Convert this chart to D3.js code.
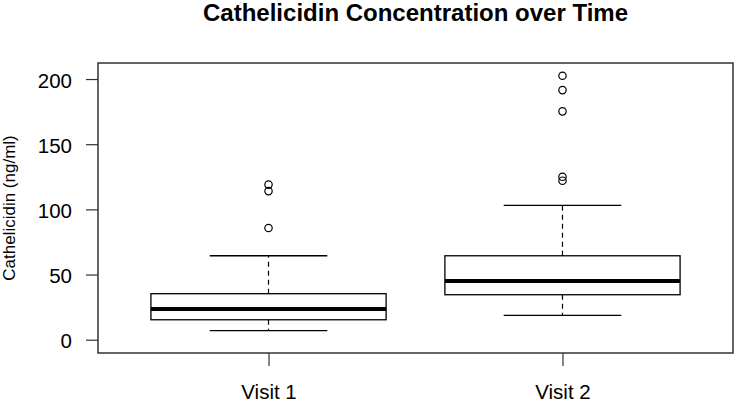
<!DOCTYPE html>
<html>
<head>
<meta charset="utf-8">
<script src="https://cdn.jsdelivr.net/npm/d3@7"></script>
<style>
  body { margin: 0; background: #fff; }
  svg { font-family: "Liberation Sans", Arial, sans-serif; }
</style>
</head>
<body>
<div id="chart"></div>
<script>
// data
const groups = ['Visit 1', 'Visit 2'];
const lowerWhisker = [6.9, 18.7];
const q1 = [15.3, 34.5];
const medians = [23.5, 45.0];
const q3 = [35.3, 64.4];
const upperWhisker = [64.4, 103];
const outliers = [
  [85.7, 114, 119],
  [122, 125, 175.2, 191.5, 202.5]
];
const yTicks = [0, 50, 100, 150, 200];

const width = 735, height = 402;
const margin = { top: 63, right: 2, bottom: 49, left: 98 };
const font = '"Liberation Sans", Arial, sans-serif';

const svg = d3.select('#chart').append('svg')
  .attr('width', width)
  .attr('height', height);

const x = d3.scaleLinear()
  .domain([0.42, 2.58])
  .range([margin.left, width - margin.right]);

const y = d3.scaleLinear()
  .domain([-10.2, 212.3])
  .range([height - margin.bottom, margin.top]);

const boxes = groups.map((g, i) => ({
  key: g, pos: i + 1,
  lo: lowerWhisker[i], q1: q1[i], med: medians[i], q3: q3[i], hi: upperWhisker[i],
  out: outliers[i]
}));

const bw = (x(1.4) - x(1)); // half box width
const cw = bw / 2;          // half cap width

// y axis
svg.append('g')
  .attr('transform', `translate(${margin.left},0)`)
  .call(d3.axisLeft(y).tickValues(yTicks).tickSize(12).tickPadding(14))
  .call(g => g.select('.domain').remove())
  .call(g => g.selectAll('.tick line').attr('stroke', '#333').attr('stroke-width', 1.2))
  .call(g => g.selectAll('.tick text').attr('font-size', 20.5).attr('fill', '#000')
    .attr('dy', '0.4em').attr('font-family', font));

// x axis
svg.append('g')
  .attr('transform', `translate(0,${height - margin.bottom})`)
  .call(d3.axisBottom(x).tickValues([1, 2]).tickFormat(d => groups[d - 1]).tickSize(13).tickPadding(18))
  .call(g => g.select('.domain').remove())
  .call(g => g.selectAll('.tick line').attr('stroke', '#333').attr('stroke-width', 1.2))
  .call(g => g.selectAll('.tick text').attr('font-size', 20.5).attr('fill', '#000')
    .attr('font-family', font));

// frame
svg.append('rect')
  .attr('x', margin.left)
  .attr('y', margin.top)
  .attr('width', width - margin.left - margin.right)
  .attr('height', height - margin.top - margin.bottom)
  .attr('fill', 'none')
  .attr('stroke', '#333')
  .attr('stroke-width', 1.5);

const b = svg.append('g').selectAll('g')
  .data(boxes)
  .join('g');

// whiskers (dashed)
b.append('line')
  .attr('x1', d => x(d.pos)).attr('x2', d => x(d.pos))
  .attr('y1', d => y(d.q3)).attr('y2', d => y(d.hi))
  .attr('stroke', '#000').attr('stroke-width', 1.2).attr('stroke-dasharray', '5 4');
b.append('line')
  .attr('x1', d => x(d.pos)).attr('x2', d => x(d.pos))
  .attr('y1', d => y(d.q1)).attr('y2', d => y(d.lo))
  .attr('stroke', '#000').attr('stroke-width', 1.2).attr('stroke-dasharray', '5 4');

// caps
b.selectAll('line.cap')
  .data(d => [d.lo, d.hi].map(v => ({ v, pos: d.pos })))
  .join('line')
  .attr('class', 'cap')
  .attr('x1', d => x(d.pos) - cw).attr('x2', d => x(d.pos) + cw)
  .attr('y1', d => y(d.v)).attr('y2', d => y(d.v))
  .attr('stroke', '#000').attr('stroke-width', 1.3);

// box
b.append('rect')
  .attr('x', d => x(d.pos) - bw)
  .attr('y', d => y(d.q3))
  .attr('width', 2 * bw)
  .attr('height', d => y(d.q1) - y(d.q3))
  .attr('fill', '#fff')
  .attr('stroke', '#000')
  .attr('stroke-width', 1.3);

// median
b.append('line')
  .attr('x1', d => x(d.pos) - bw).attr('x2', d => x(d.pos) + bw)
  .attr('y1', d => y(d.med)).attr('y2', d => y(d.med))
  .attr('stroke', '#000').attr('stroke-width', 4);

// outliers
b.selectAll('circle')
  .data(d => d.out.map(v => ({ v, pos: d.pos })))
  .join('circle')
  .attr('cx', d => x(d.pos))
  .attr('cy', d => y(d.v))
  .attr('r', 3.7)
  .attr('fill', 'none')
  .attr('stroke', '#000')
  .attr('stroke-width', 1.2);

// title
svg.append('text')
  .attr('x', (margin.left + width - margin.right) / 2)
  .attr('y', 21)
  .attr('text-anchor', 'middle')
  .attr('font-size', 24)
  .attr('font-weight', 'bold')
  .text('Cathelicidin Concentration over Time');

// y label
svg.append('text')
  .attr('transform', `translate(15,${(margin.top + height - margin.bottom) / 2}) rotate(-90)`)
  .attr('text-anchor', 'middle')
  .attr('font-size', 17)
  .text('Cathelicidin (ng/ml)');
</script>
</body>
</html>
